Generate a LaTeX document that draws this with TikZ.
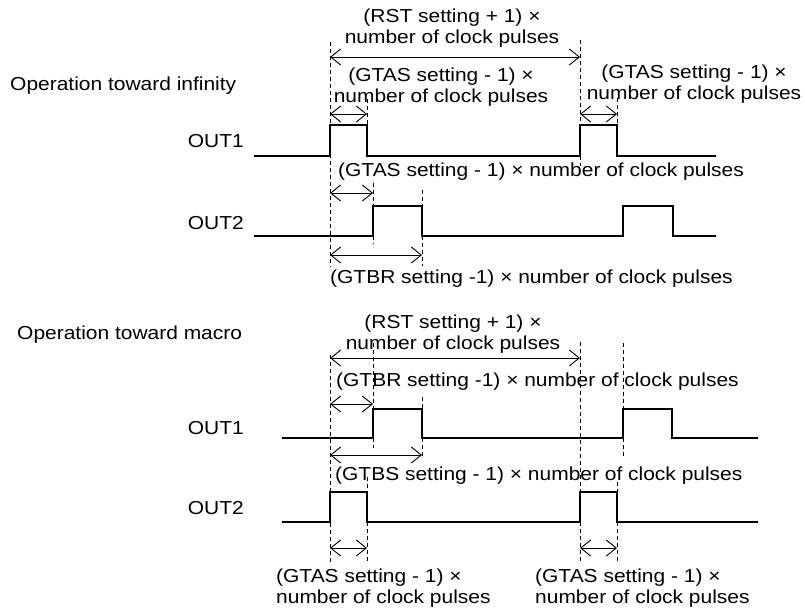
\documentclass[tikz,border=0pt]{standalone}
\usepackage{fontspec}
\setmainfont{Liberation Sans}[FakeStretch=1.115]
\usetikzlibrary{arrows.meta}
\begin{document}
\begin{tikzpicture}[x=1pt,y=-1pt,
  sig/.style={line width=2.5pt, line join=miter},
  guide/.style={line width=0.9pt, dash pattern=on 4pt off 3pt},
  dim/.style={line width=0.9pt, {Straight Barb[length=10pt,width=16pt]}-{Straight Barb[length=10pt,width=16pt]}},
  lbl/.style={inner sep=0pt, font=\fontsize{18.8}{21}\selectfont}]
\useasboundingbox (0,0) rectangle (805,611);

% ---------- Operation toward infinity ----------
\node[lbl, anchor=west] (titleA) at (10,86) {Operation toward infinity};
\node[lbl, anchor=east] (outAa) at (244,141) {OUT1};
\node[lbl, anchor=east] (outAb) at (244,223) {OUT2};

% guides
\draw[guide] (330,42) -- (330,267);
\draw[guide] (367,99) -- (367,125);
\draw[guide] (373,183) -- (373,206);
\draw[guide] (373,236) -- (373,244);
\draw[guide] (422,190) -- (422,206);
\draw[guide] (422,236) -- (422,266);
\draw[guide] (580,40) -- (580,125);
\draw[guide] (580,156) -- (580,166);
\draw[guide] (617,98) -- (617,125);

% signals
\draw[sig] (254,156) -- (330,156) -- (330,125) -- (367,125) -- (367,156) -- (580,156) -- (580,125) -- (617,125) -- (617,156) -- (716,156);
\draw[sig] (254,236) -- (373,236) -- (373,206) -- (422,206) -- (422,236) -- (623,236) -- (623,206) -- (673,206) -- (673,236) -- (716,236);

% dimension arrows
\coordinate (a1) at (330,57); \coordinate (a2) at (580,57);
\draw[dim] (a1) -- (a2);
\coordinate (b1) at (330,114); \coordinate (b2) at (367,114);
\draw[dim] (b1) -- (b2);
\coordinate (c1) at (580,114); \coordinate (c2) at (617,114);
\draw[dim] (c1) -- (c2);
\coordinate (d1) at (330,193); \coordinate (d2) at (373,193);
\draw[dim] (d1) -- (d2);
\coordinate (e1) at (330,255); \coordinate (e2) at (422,255);
\draw[dim] (e1) -- (e2);

% labels
\node[lbl, align=center] (rstA) at (452,28) {(RST setting + 1) ×\\number of clock pulses};
\node[lbl, align=center] (gtasA) at (441,87) {(GTAS setting - 1) ×\\number of clock pulses};
\node[lbl, align=center] (gtasB) at (694,84) {(GTAS setting - 1) ×\\number of clock pulses};
\node[lbl, anchor=west] (gtasC) at (338,172) {(GTAS setting - 1) × number of clock pulses};
\node[lbl, anchor=west] (gtbrA) at (330,279) {(GTBR setting -1) × number of clock pulses};

% ---------- Operation toward macro ----------
\node[lbl, anchor=west] (titleB) at (17,335) {Operation toward macro};
\node[lbl, anchor=east] (outBa) at (244,428) {OUT1};
\node[lbl, anchor=east] (outBb) at (244,508) {OUT2};

% guides
\draw[guide] (330,355) -- (330,562);
\draw[guide] (373,343) -- (373,409);
\draw[guide] (373,438) -- (373,448);
\draw[guide] (422,397) -- (422,409);
\draw[guide] (422,438) -- (422,458);
\draw[guide] (580,342) -- (580,492);
\draw[guide] (580,522) -- (580,562);
\draw[guide] (623,343) -- (623,409);
\draw[guide] (623,438) -- (623,457);
\draw[guide] (367,477) -- (367,492);
\draw[guide] (367,522) -- (367,561);
\draw[guide] (617,482) -- (617,492);
\draw[guide] (617,522) -- (617,561);

% signals
\draw[sig] (282,438) -- (373,438) -- (373,409) -- (422,409) -- (422,438) -- (623,438) -- (623,409) -- (672,409) -- (672,438) -- (758,438);
\draw[sig] (282,522) -- (330,522) -- (330,492) -- (367,492) -- (367,522) -- (580,522) -- (580,492) -- (617,492) -- (617,522) -- (758,522);

% dimension arrows
\coordinate (f1) at (330,358); \coordinate (f2) at (580,358);
\draw[dim] (f1) -- (f2);
\coordinate (g1) at (330,404); \coordinate (g2) at (373,404);
\draw[dim] (g1) -- (g2);
\coordinate (h1) at (330,455); \coordinate (h2) at (422,455);
\draw[dim] (h1) -- (h2);
\coordinate (i1) at (330,548); \coordinate (i2) at (367,548);
\draw[dim] (i1) -- (i2);
\coordinate (j1) at (580,548); \coordinate (j2) at (617,548);
\draw[dim] (j1) -- (j2);

% labels
\node[lbl, align=center] (rstB) at (453,334) {(RST setting + 1) ×\\number of clock pulses};
\node[lbl, anchor=west] (gtbrB) at (336,382) {(GTBR setting -1) × number of clock pulses};
\node[lbl, anchor=west] (gtbsB) at (335,476) {(GTBS setting - 1) × number of clock pulses};
\node[lbl, align=left, anchor=west] (gtasD) at (276,588) {(GTAS setting - 1) ×\\number of clock pulses};
\node[lbl, align=left, anchor=west] (gtasE) at (535,588) {(GTAS setting - 1) ×\\number of clock pulses};
\end{tikzpicture}
\end{document}
